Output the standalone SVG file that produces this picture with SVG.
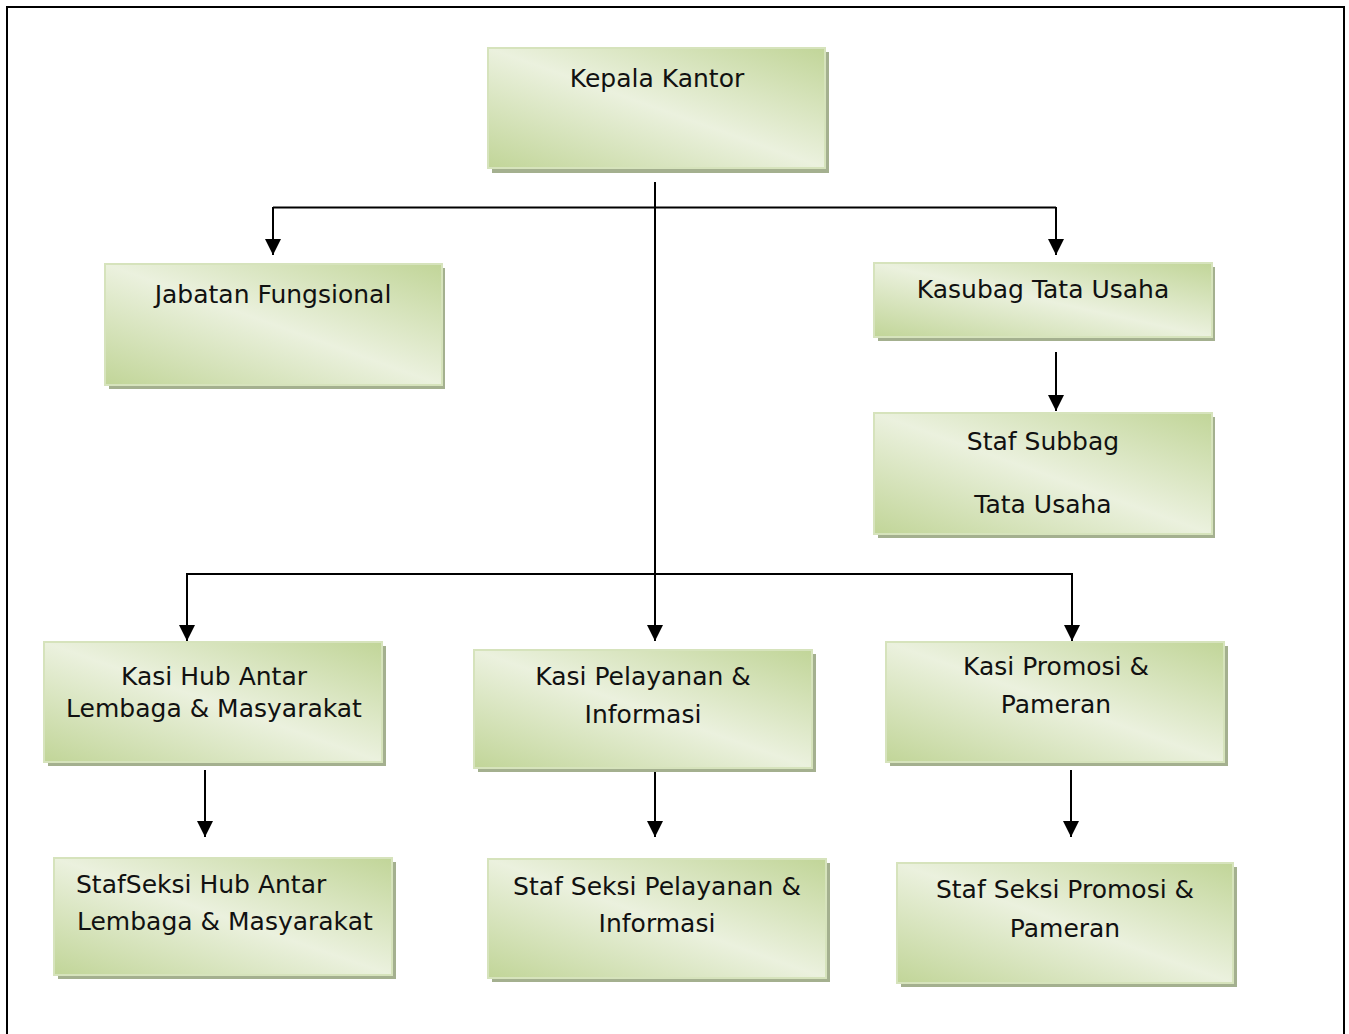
<svg xmlns="http://www.w3.org/2000/svg" width="1349" height="1034" viewBox="0 0 1349 1034">
<defs>
  <linearGradient id="g" x1="1" y1="0" x2="0" y2="1">
    <stop offset="0" stop-color="#c1d598"/>
    <stop offset="0.5" stop-color="#ebf1de"/>
    <stop offset="1" stop-color="#c1d598"/>
  </linearGradient>
  <marker id="arr" markerUnits="userSpaceOnUse" markerWidth="16" markerHeight="16" refX="16" refY="8" orient="auto">
    <path d="M0,0 L16,8 L0,16 z" fill="#000"/>
  </marker>
  <style>
    .sh { fill: #a4b08f; }
    .bx { fill: url(#g); stroke: #d6e3bc; stroke-width: 2; }
    .t { font-family: "DejaVu Sans", "Liberation Sans", sans-serif; font-size: 25px; fill: #111; text-anchor: middle; }
    .l { text-anchor: start; }
    .c { fill: none; stroke: #000; stroke-width: 2; }
    .a { marker-end: url(#arr); }
  </style>
</defs>
<rect x="0" y="0" width="1349" height="1034" fill="#fff"/>
<rect x="7" y="7" width="1337" height="1100" fill="none" stroke="#000" stroke-width="2"/>

<g id="connectors">
  <path class="c a" d="M655,182 V641"/>
  <path class="c" d="M273,207.5 H1056"/>
  <path class="c a" d="M273,207 V255"/>
  <path class="c a" d="M1056,207 V255"/>
  <path class="c a" d="M1056,352 V411"/>
  <path class="c" d="M187,574 H1072"/>
  <path class="c a" d="M187,573 V641"/>
  <path class="c a" d="M1072,573 V641"/>
  <path class="c a" d="M205,770 V837"/>
  <path class="c a" d="M655,770 V837"/>
  <path class="c a" d="M1071,770 V837"/>
</g>

<g id="kepala-kantor">
  <rect class="sh" x="492" y="52" width="337" height="121"/>
  <rect class="bx" x="488" y="48" width="337" height="120"/>
  <text class="t" x="657" y="87">Kepala Kantor</text>
</g>

<g id="jabatan-fungsional">
  <rect class="sh" x="109" y="268" width="336" height="121"/>
  <rect class="bx" x="105" y="264" width="337" height="121"/>
  <text class="t" x="273" y="303">Jabatan Fungsional</text>
</g>

<g id="kasubag-tata-usaha">
  <rect class="sh" x="878" y="267" width="337" height="74"/>
  <rect class="bx" x="874" y="263" width="338" height="74"/>
  <text class="t" x="1043" y="298">Kasubag Tata Usaha</text>
</g>

<g id="staf-subbag">
  <rect class="sh" x="878" y="417" width="337" height="121"/>
  <rect class="bx" x="874" y="413" width="338" height="121"/>
  <text class="t" x="1043" y="450">Staf Subbag</text>
  <text class="t" x="1043" y="513">Tata Usaha</text>
</g>

<g id="kasi-hub">
  <rect class="sh" x="48" y="646" width="338" height="120"/>
  <rect class="bx" x="44" y="642" width="338" height="120"/>
  <text class="t" x="214" y="685">Kasi Hub Antar</text>
  <text class="t" x="214" y="717">Lembaga &amp; Masyarakat</text>
</g>

<g id="kasi-pelayanan">
  <rect class="sh" x="478" y="654" width="338" height="118"/>
  <rect class="bx" x="474" y="650" width="338" height="118"/>
  <text class="t" x="643" y="685">Kasi Pelayanan &amp;</text>
  <text class="t" x="643" y="723">Informasi</text>
</g>

<g id="kasi-promosi">
  <rect class="sh" x="890" y="646" width="338" height="120"/>
  <rect class="bx" x="886" y="642" width="338" height="120"/>
  <text class="t" x="1056" y="675">Kasi Promosi &amp;</text>
  <text class="t" x="1056" y="713">Pameran</text>
</g>

<g id="staf-seksi-hub">
  <rect class="sh" x="58" y="862" width="338" height="117"/>
  <rect class="bx" x="54" y="858" width="338" height="117"/>
  <text class="t l" x="76" y="893">StafSeksi Hub Antar</text>
  <text class="t l" x="77" y="930">Lembaga &amp; Masyarakat</text>
</g>

<g id="staf-seksi-pelayanan">
  <rect class="sh" x="492" y="863" width="338" height="119"/>
  <rect class="bx" x="488" y="859" width="338" height="119"/>
  <text class="t" x="657" y="895">Staf Seksi Pelayanan &amp;</text>
  <text class="t" x="657" y="932">Informasi</text>
</g>

<g id="staf-seksi-promosi">
  <rect class="sh" x="901" y="867" width="336" height="120"/>
  <rect class="bx" x="897" y="863" width="336" height="120"/>
  <text class="t" x="1065" y="898">Staf Seksi Promosi &amp;</text>
  <text class="t" x="1065" y="937">Pameran</text>
</g>
</svg>
